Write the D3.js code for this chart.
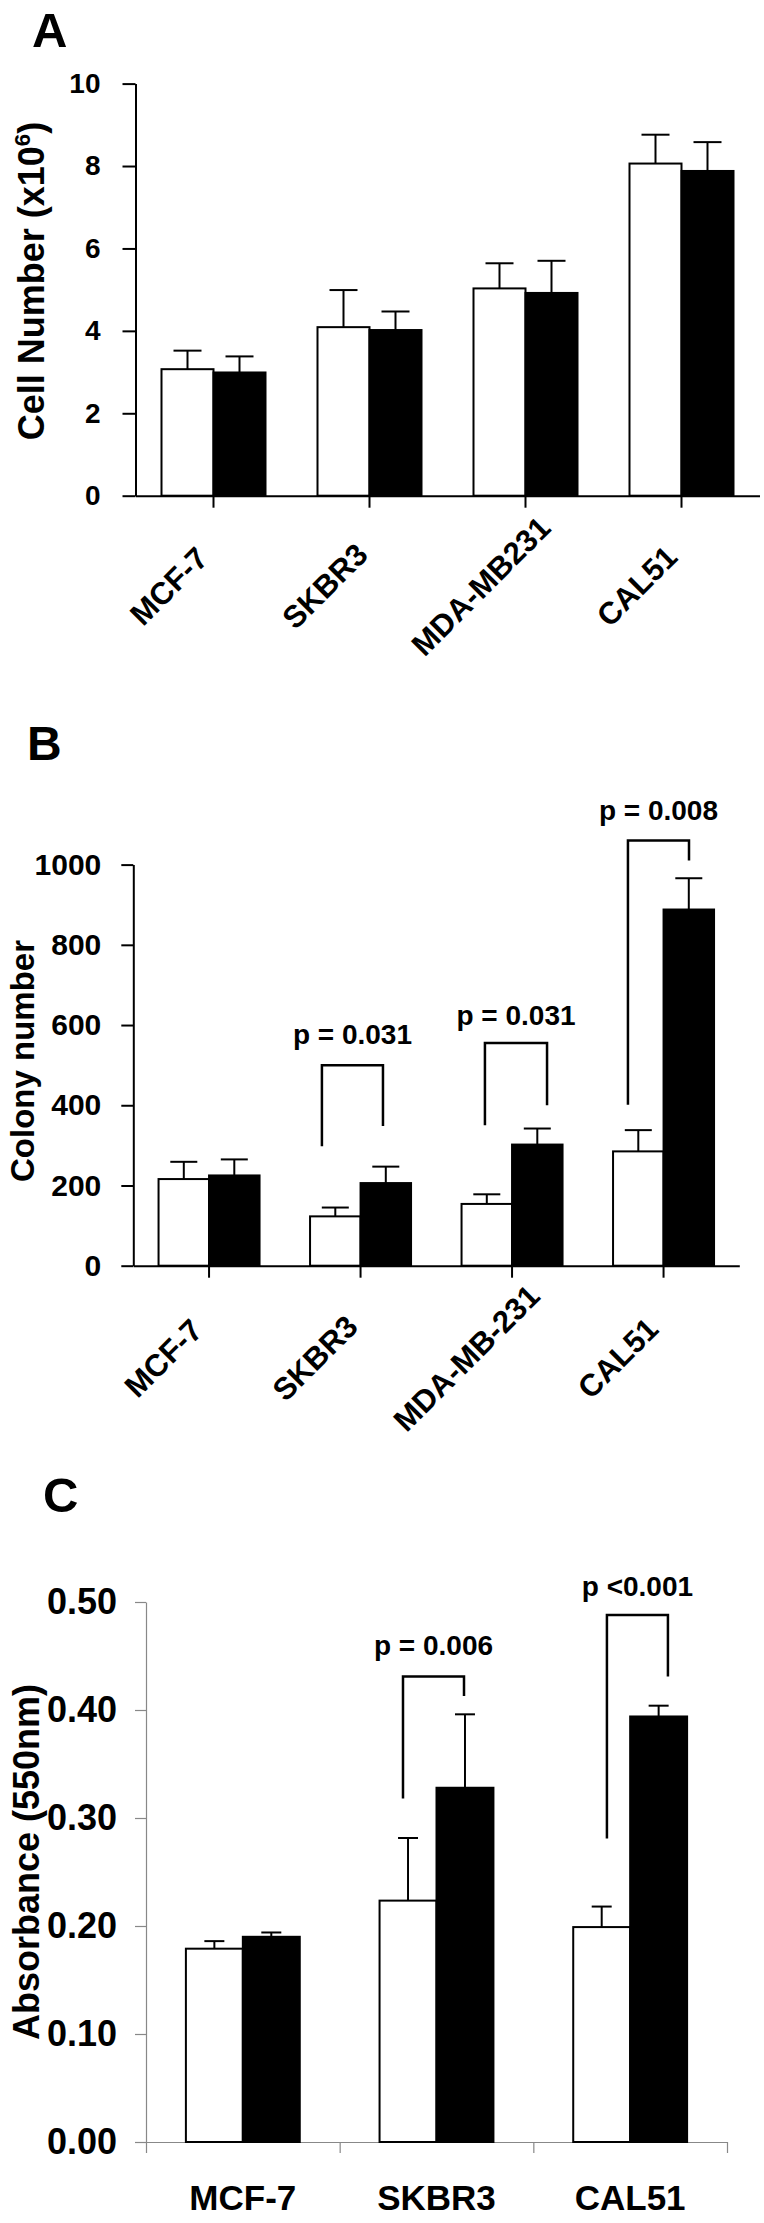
<!DOCTYPE html>
<html><head><meta charset="utf-8">
<script src="https://cdn.jsdelivr.net/npm/d3@7"></script>
<style>
html,body{margin:0;padding:0;background:#fff;}
svg{display:block;}
text{font-family:"Liberation Sans",Arial,Helvetica,sans-serif;font-weight:bold;fill:#000;}
</style></head><body>
<svg id="chart" width="764" height="2223"></svg>
<script>
// ---------- Panel A: cell number ----------
const catsA = ["MCF-7","SKBR3","MDA-MB231","CAL51"];
const ctrlA = [3.07, 4.09, 5.03, 8.06];
const ctrlErrA = [0.45, 0.90, 0.61, 0.70];
const trtA = [2.99, 4.02, 4.92, 7.88];
const trtErrA = [0.39, 0.45, 0.78, 0.70];
const ticksA = [0, 2, 4, 6, 8, 10];

// ---------- Panel B: colony number ----------
const catsB = ["MCF-7","SKBR3","MDA-MB-231","CAL51"];
const ctrlB = [216, 123, 154, 285];
const ctrlErrB = [43, 22, 24, 53];
const trtB = [225, 206, 302, 888];
const trtErrB = [40, 41, 40, 78];
const ticksB = [0, 200, 400, 600, 800, 1000];
// brackets: x in category units (0..n), y in data units
const bracketsB = [
  {x1: 1.245, x2: 1.648, top: 500, yl: 298, yr: 348, label: "p = 0.031", ly: 552},
  {x1: 2.321, x2: 2.731, top: 555, yl: 350, yr: 400, label: "p = 0.031", ly: 600},
  {x1: 3.265, x2: 3.668, top: 1060, yl: 401, yr: 1010, label: "p = 0.008", ly: 1110}
];

// ---------- Panel C: absorbance ----------
const catsC = ["MCF-7","SKBR3","CAL51"];
const ctrlC = [0.179, 0.2235, 0.199];
const ctrlErrC = [0.007, 0.058, 0.019];
const trtC = [0.190, 0.328, 0.394];
const trtErrC = [0.004, 0.068, 0.010];
const ticksC = [0, 0.1, 0.2, 0.3, 0.4, 0.5];
const bracketsC = [
  {x1: 1.327, x2: 1.642, top: 0.431, yl: 0.318, yr: 0.413, label: "p = 0.006", ly: 0.451},
  {x1: 2.380, x2: 2.695, top: 0.488, yl: 0.281, yr: 0.431, label: "p <0.001", ly: 0.5056}
];

const svg = d3.select("#chart");

function panel(o) {
  const g = svg.append("g");
  const x = d3.scaleBand().domain(o.cats).range([o.x0, o.x1]).padding(0);
  const xu = d3.scaleLinear().domain([0, o.cats.length]).range([o.x0, o.x1]);
  const y = d3.scaleLinear().domain([0, o.ymax]).range([o.y0, o.ytop]);
  const inner = d3.scaleBand().domain(["ctrl","trt"])
      .range([x.bandwidth()*o.innerPad, x.bandwidth()*(1-o.innerPad)]).padding(0);

  // panel letter
  g.append("text").attr("x", o.letterX).attr("y", o.letterY)
    .style("font-size", o.letterSize + "px").text(o.letter);

  // y axis
  const ya = g.append("g").attr("transform", `translate(${o.x0},0)`)
    .call(d3.axisLeft(y).tickValues(o.ticks).tickSize(o.tickLen).tickSizeOuter(0)
      .tickPadding(o.tickPad).tickFormat(o.fmt));
  ya.select(".domain").attr("stroke", o.axisColor).attr("stroke-width", o.axisW);
  ya.selectAll(".tick line").attr("stroke", o.axisColor).attr("stroke-width", o.axisW);
  ya.selectAll(".tick text").style("font-size", o.tickFont + "px")
    .style("font-family", "'Liberation Sans',Arial,sans-serif").style("font-weight", "bold")
    .attr("fill", "#000");

  // y title
  const yt = g.append("text")
    .attr("transform", `translate(${o.titleX},${o.titleY}) rotate(-90)`)
    .attr("text-anchor", "middle").style("font-size", o.titleSize + "px");
  yt.append("tspan").text(o.title);
  if (o.titleSup) {
    yt.append("tspan").attr("dy", -o.titleSize*0.38).style("font-size", (o.titleSize*0.62) + "px").text(o.titleSup);
    yt.append("tspan").attr("dy", o.titleSize*0.38).text(o.titleEnd);
  }

  // x axis
  let xa;
  if (o.boundaryTicks) {
    xa = g.append("g").attr("transform", `translate(0,${o.y0})`)
      .call(d3.axisBottom(xu).tickValues(d3.range(o.cats.length + 1)).tickSize(o.xTickLen)
        .tickSizeOuter(0).tickFormat(""));
  } else {
    xa = g.append("g").attr("transform", `translate(0,${o.y0})`)
      .call(d3.axisBottom(x).tickSize(o.xTickLen).tickSizeOuter(0).tickFormat(""));
  }
  xa.select(".domain").attr("stroke", o.axisColor).attr("stroke-width", o.axisW);
  xa.selectAll(".tick line").attr("stroke", o.axisColor).attr("stroke-width", o.axisW);

  // category labels
  const lab = g.append("g").selectAll("text").data(o.cats).join("text")
    .style("font-size", o.catFont + "px");
  if (o.rotate) {
    lab.attr("text-anchor", "middle")
      .attr("transform", d => `translate(${x(d) + x.bandwidth()/2 + o.labDx},${o.y0 + o.labDy}) rotate(-45)`)
      .text(d => d);
  } else {
    lab.attr("text-anchor", "middle")
      .attr("x", d => x(d) + x.bandwidth()/2).attr("y", o.y0 + o.labDy).text(d => d);
  }

  // bars
  const series = [];
  o.cats.forEach((c, i) => {
    series.push({c, k: "ctrl", v: o.ctrl[i], e: o.ctrlErr[i]});
    series.push({c, k: "trt", v: o.trt[i], e: o.trtErr[i]});
  });
  const bw = inner.bandwidth();
  // error bars (upper only)
  const eb = g.append("g").attr("stroke", "#000").attr("stroke-width", 2);
  series.forEach(s => {
    const cx = x(s.c) + inner(s.k) + bw/2;
    eb.append("line").attr("x1", cx).attr("x2", cx).attr("y1", y(s.v)).attr("y2", y(s.v + s.e));
    eb.append("line").attr("x1", cx - o.cap/2).attr("x2", cx + o.cap/2)
      .attr("y1", y(s.v + s.e)).attr("y2", y(s.v + s.e));
  });
  g.append("g").selectAll("rect").data(series).join("rect")
    .attr("x", d => x(d.c) + inner(d.k))
    .attr("y", d => y(d.v))
    .attr("width", bw)
    .attr("height", d => o.y0 - y(d.v))
    .attr("fill", d => d.k === "ctrl" ? "#fff" : "#000")
    .attr("stroke", "#000").attr("stroke-width", 2);

  // significance brackets
  (o.brackets || []).forEach(b => {
    g.append("path")
      .attr("d", `M${xu(b.x1)},${y(b.yl)}V${y(b.top)}H${xu(b.x2)}V${y(b.yr)}`)
      .attr("fill", "none").attr("stroke", "#000").attr("stroke-width", 2.5);
    g.append("text").attr("x", (xu(b.x1) + xu(b.x2))/2).attr("y", y(b.ly))
      .attr("text-anchor", "middle").style("font-size", o.pFont + "px").text(b.label);
  });
}

panel({
  letter: "A", letterX: 32, letterY: 47, letterSize: 49,
  cats: catsA, ctrl: ctrlA, ctrlErr: ctrlErrA, trt: trtA, trtErr: trtErrA,
  ticks: ticksA, ymax: 10, fmt: d3.format("d"),
  x0: 135.5, x1: 759.5, y0: 495.7, ytop: 83.6, innerPad: 1/6,
  tickLen: 13, tickPad: 22, tickFont: 28, axisColor: "#000", axisW: 2,
  xTickLen: 12, title: "Cell Number (x10", titleSup: "6", titleEnd: ")",
  titleX: 44, titleY: 281, titleSize: 36,
  rotate: true, catFont: 31, labDx: -37, labDy: 98, cap: 28
});

panel({
  letter: "B", letterX: 27, letterY: 760, letterSize: 48,
  cats: catsB, ctrl: ctrlB, ctrlErr: ctrlErrB, trt: trtB, trtErr: trtErrB,
  ticks: ticksB, ymax: 1000, fmt: d3.format("d"),
  x0: 133.3, x1: 739.3, y0: 1265.7, ytop: 864.6, innerPad: 1/6,
  tickLen: 12, tickPad: 20, tickFont: 30, axisColor: "#000", axisW: 2,
  xTickLen: 12, title: "Colony number",
  titleX: 34, titleY: 1061, titleSize: 33,
  rotate: true, catFont: 31, labDx: -38, labDy: 100, cap: 27,
  brackets: bracketsB, pFont: 28
});

panel({
  letter: "C", letterX: 43, letterY: 1512, letterSize: 49,
  cats: catsC, ctrl: ctrlC, ctrlErr: ctrlErrC, trt: trtC, trtErr: trtErrC,
  ticks: ticksC, ymax: 0.5, fmt: d3.format(".2f"),
  x0: 146, x1: 727, y0: 2142, ytop: 1602, innerPad: 0.206,
  tickLen: 11, tickPad: 18, tickFont: 36, axisColor: "#888", axisW: 1.2,
  xTickLen: 11, title: "Absorbance (550nm)",
  titleX: 39, titleY: 1862, titleSize: 36,
  rotate: false, catFont: 35, labDy: 68, cap: 20, boundaryTicks: true,
  brackets: bracketsC, pFont: 28
});
</script>
</body></html>
